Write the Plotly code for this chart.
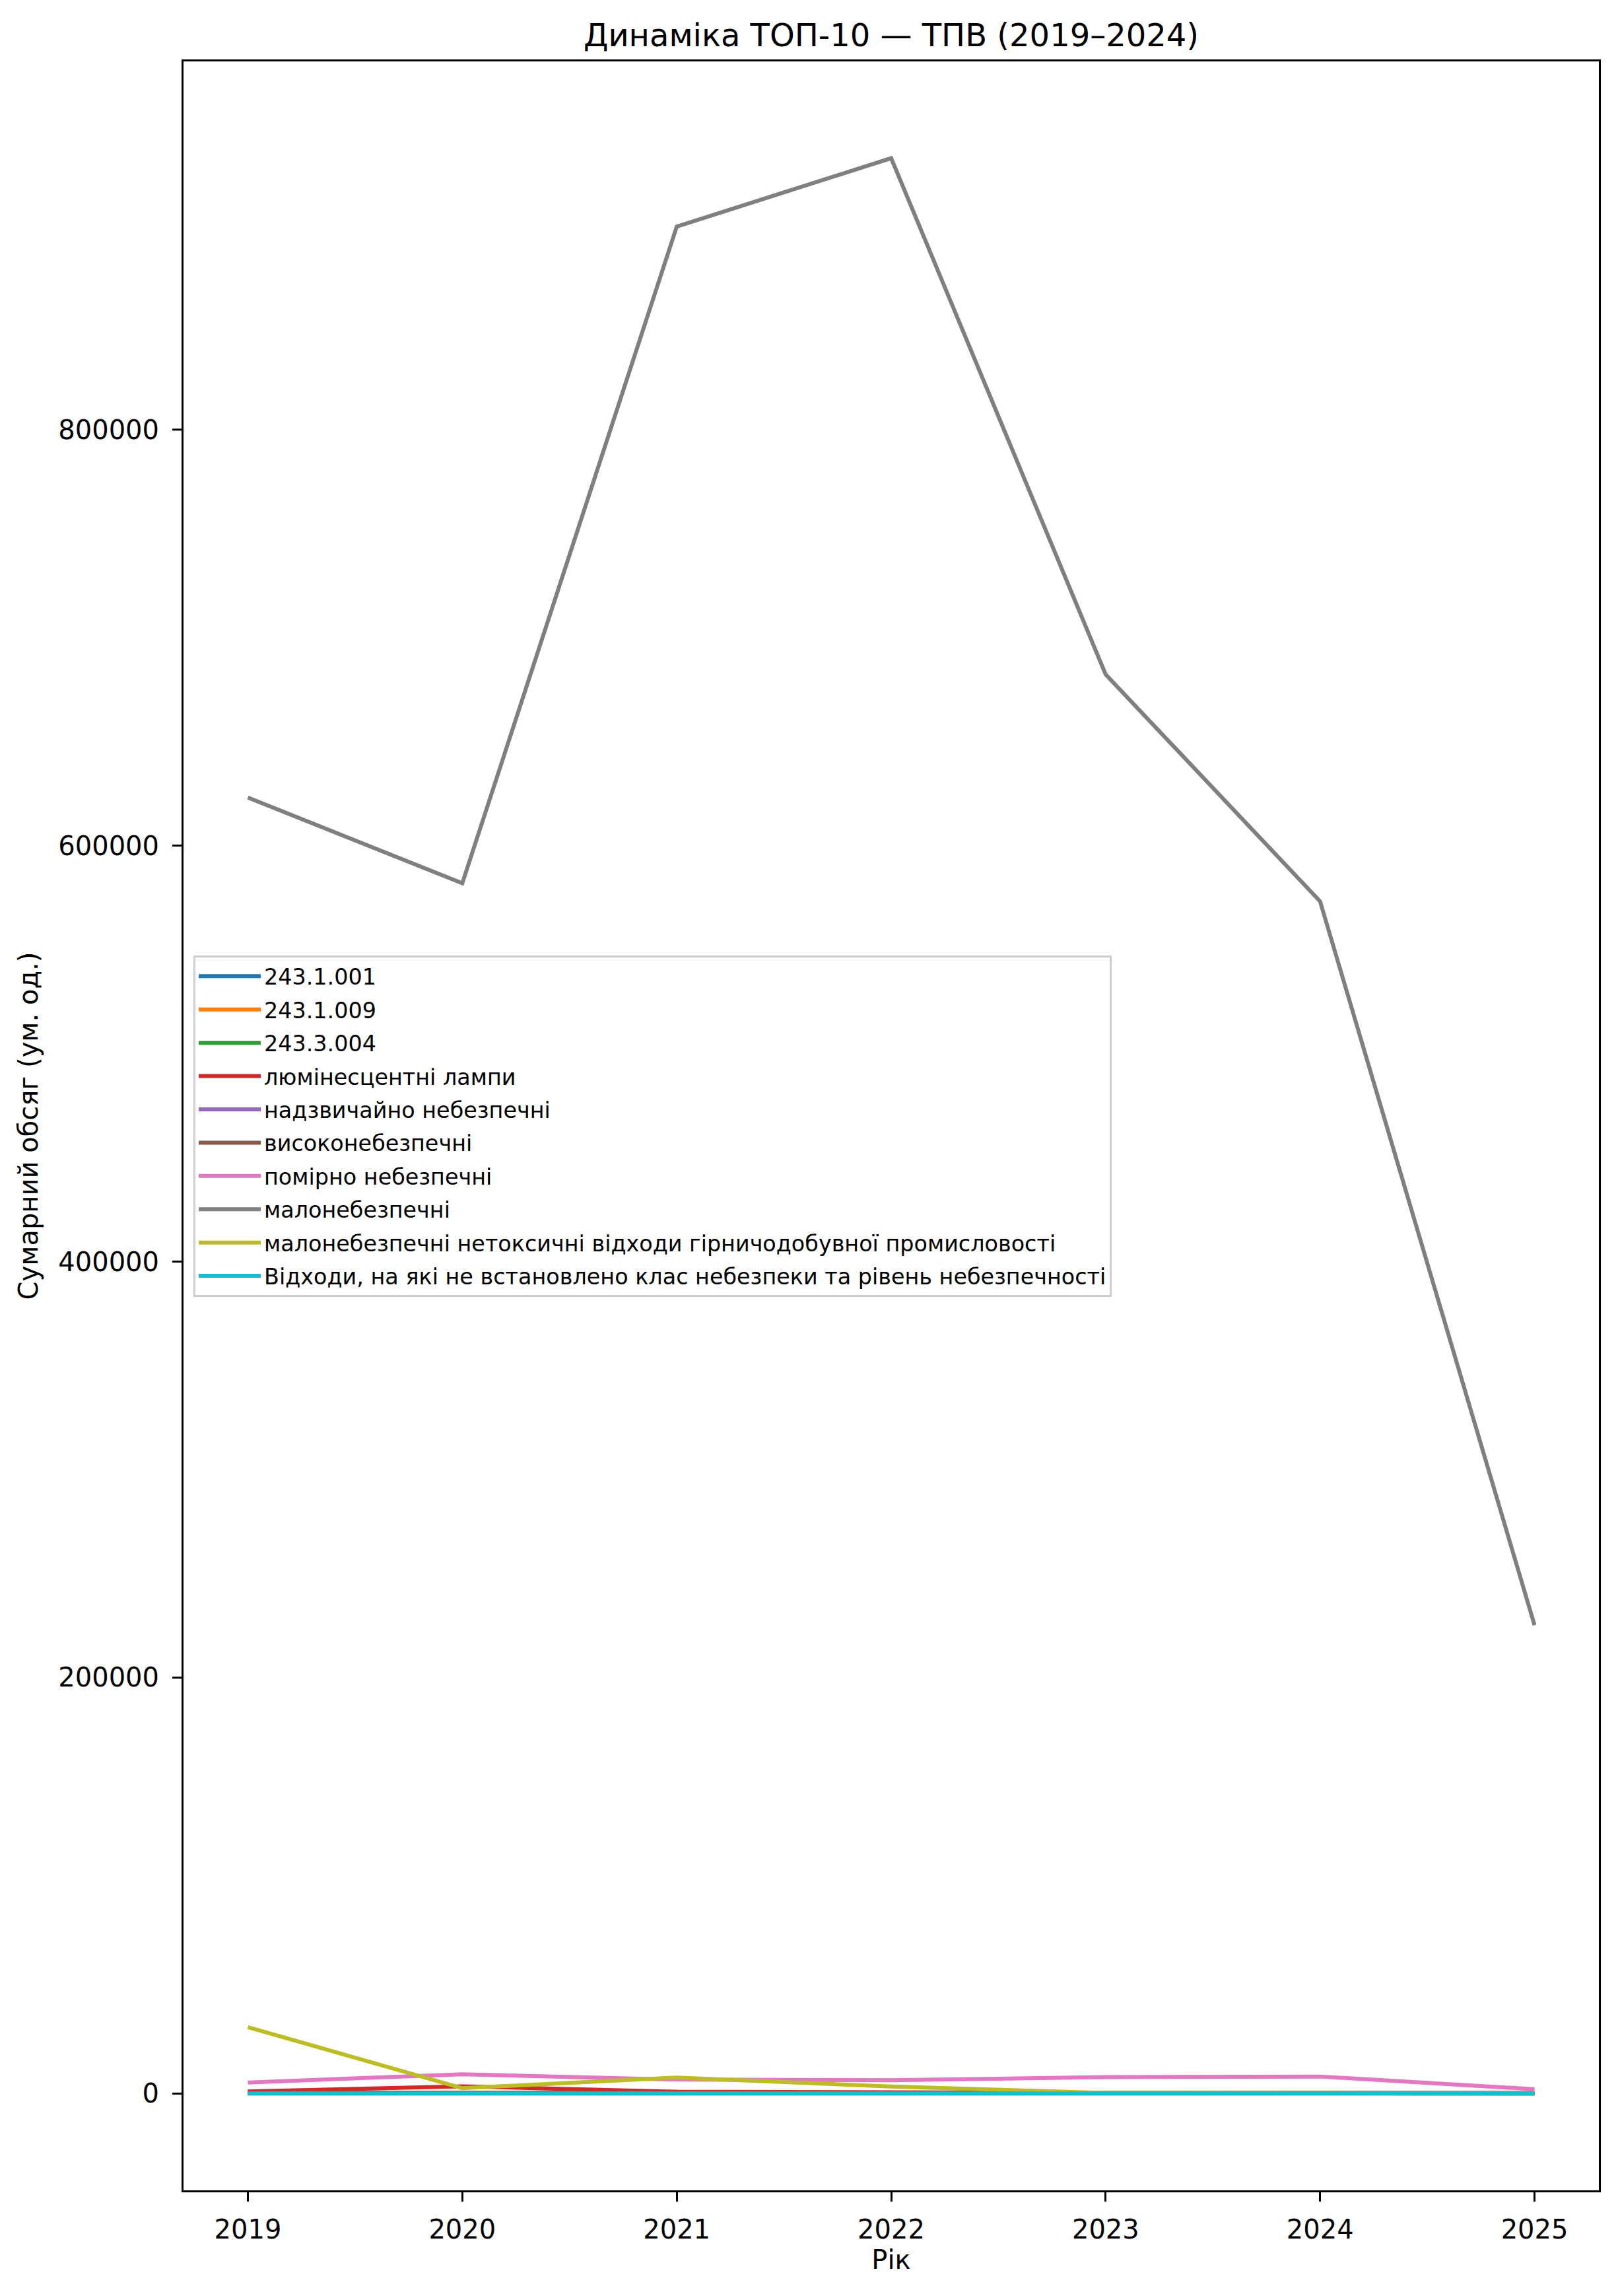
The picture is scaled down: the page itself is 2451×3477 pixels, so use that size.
import plotly.graph_objects as go

years = [2019, 2020, 2021, 2022, 2023, 2024, 2025]

series_names = [
    "243.1.001",
    "243.1.009",
    "243.3.004",
    "люмінесцентні лампи",
    "надзвичайно небезпечні",
    "високонебезпечні",
    "помірно небезпечні",
    "малонебезпечні",
    "малонебезпечні нетоксичні відходи гірничодобувної промисловості",
    "Відходи, на які не встановлено клас небезпеки та рівень небезпечності",
]

v_243_1_001 = [300, 300, 250, 250, 200, 200, 150]
v_243_1_009 = [200, 250, 200, 200, 150, 150, 100]
v_243_3_004 = [250, 200, 200, 150, 150, 150, 100]
v_lamps = [1000, 3500, 900, 400, 300, 300, 200]
v_extreme = [50, 50, 50, 40, 40, 40, 30]
v_high = [400, 500, 450, 400, 350, 350, 300]
v_moderate = [5300, 9300, 6700, 6400, 7900, 8200, 2100]
v_low = [623100, 581900, 897600, 930500, 682300, 573200, 225200]
v_mining = [31900, 2600, 7700, 3400, 300, 200, 150]
v_unclassified = [100, 100, 100, 100, 100, 100, 100]

values = [v_243_1_001, v_243_1_009, v_243_3_004, v_lamps, v_extreme,
          v_high, v_moderate, v_low, v_mining, v_unclassified]

colors = ["#1f77b4", "#ff7f0e", "#2ca02c", "#d62728", "#9467bd",
          "#8c564b", "#e377c2", "#7f7f7f", "#bcbd22", "#17becf"]

W, H = 2451, 3477
L, R, T, B = 278, 29, 93, 160

fig = go.Figure()
for i, (name, vals, col) in enumerate(zip(series_names, values, colors)):
    fig.add_trace(go.Scatter(x=years, y=vals, mode="lines", name=name,
                             legendgroup=f"g{i}",
                             line=dict(color=col, width=6)))

ymax_data = max(v_low)
ymin = -0.05 * ymax_data
ymax = 1.05 * ymax_data

fig.update_layout(
    width=W, height=H,
    margin=dict(l=L, r=R, t=T, b=B, autoexpand=False),
    paper_bgcolor="white", plot_bgcolor="white",
    font=dict(family="DejaVu Sans", size=40, color="black"),
    title=dict(text="Динаміка ТОП-10 — ТПВ (2019–2024)", x=(L + (W - L - R) / 2) / W,
               xanchor="center", y=1 - 53 / H, yanchor="middle", yref="container",
               font=dict(size=48, family="DejaVu Sans", color="black")),
    showlegend=True,
    legend=dict(x=0.007, y=0.580, xanchor="left", yanchor="top",
                bgcolor="rgba(255,255,255,0.8)", bordercolor="#cccccc", borderwidth=3,
                font=dict(size=33.4, family="DejaVu Sans", color="black"),
                itemwidth=94, tracegroupgap=4),
)

fig.update_xaxes(
    range=[2018.7, 2025.3], tickmode="array", tickvals=years,
    ticktext=[str(y) for y in years],
    showgrid=False, zeroline=False, showline=True, linecolor="black", linewidth=3,
    mirror=True, ticks="outside", ticklen=14, tickwidth=3, tickcolor="black",
    ticklabelstandoff=8,
    tickfont=dict(size=40, family="DejaVu Sans", color="black"),
    title=dict(text="Рік", standoff=10, font=dict(size=40, family="DejaVu Sans", color="black")),
)
fig.update_yaxes(
    range=[ymin, ymax], tickmode="array", tickvals=[0, 200000, 400000, 600000, 800000],
    ticktext=["0", "200000", "400000", "600000", "800000"],
    showgrid=False, zeroline=False, showline=True, linecolor="black", linewidth=3,
    mirror=True, ticks="outside", ticklen=14, tickwidth=3, tickcolor="black",
    ticklabelstandoff=12,
    tickfont=dict(size=40, family="DejaVu Sans", color="black"),
    title=dict(text="Сумарний обсяг (ум. од.)", standoff=19,
               font=dict(size=40, family="DejaVu Sans", color="black")),
)

fig.write_html("out.html")
